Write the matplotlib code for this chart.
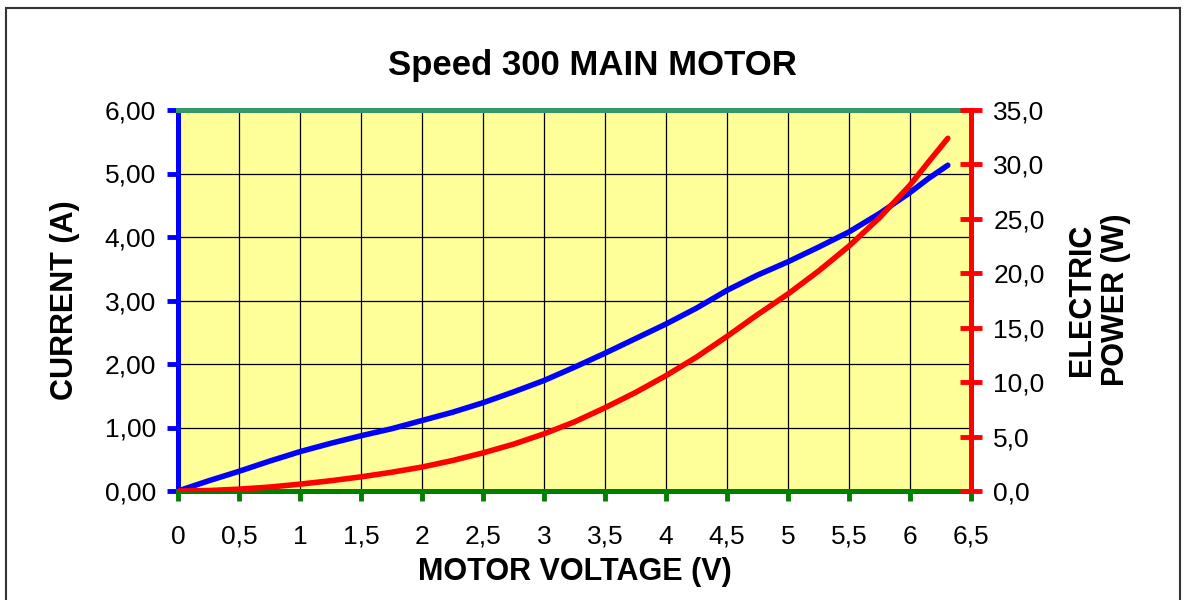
import matplotlib
matplotlib.use("Agg")
import matplotlib.pyplot as plt
from matplotlib.patches import Rectangle

plt.rcParams['font.family'] = ['Liberation Sans', 'DejaVu Sans']

voltage = [0.0, 0.25, 0.5, 0.75, 1.0, 1.25, 1.5, 1.75, 2.0, 2.25, 2.5, 2.75, 3.0,
           3.25, 3.5, 3.75, 4.0, 4.25, 4.5, 4.75, 5.0, 5.25, 5.5, 5.75, 6.0, 6.15, 6.31]
current = [0.00, 0.16, 0.31, 0.47, 0.62, 0.75, 0.87, 0.98, 1.11, 1.24, 1.39, 1.56, 1.74,
           1.95, 2.17, 2.40, 2.63, 2.88, 3.16, 3.40, 3.61, 3.84, 4.08, 4.37, 4.70, 4.92, 5.13]
power = [0.0, 0.04, 0.17, 0.36, 0.63, 0.94, 1.30, 1.72, 2.20, 2.80, 3.50, 4.30, 5.25,
         6.35, 7.65, 9.05, 10.6, 12.3, 14.2, 16.2, 18.1, 20.2, 22.5, 25.1, 28.1, 30.2, 32.4]

x_ticks = [0, 0.5, 1, 1.5, 2, 2.5, 3, 3.5, 4, 4.5, 5, 5.5, 6, 6.5]
x_labels = ["0", "0,5", "1", "1,5", "2", "2,5", "3", "3,5", "4", "4,5", "5", "5,5", "6", "6,5"]
i_ticks = [0, 1, 2, 3, 4, 5, 6]
i_labels = ["0,00", "1,00", "2,00", "3,00", "4,00", "5,00", "6,00"]
p_ticks = [0, 5, 10, 15, 20, 25, 30, 35]
p_labels = ["0,0", "5,0", "10,0", "15,0", "20,0", "25,0", "30,0", "35,0"]

fig = plt.figure(figsize=(11.84, 6.0), dpi=100)
ax = fig.add_axes([178 / 1184, 109 / 600, 793 / 1184, 381 / 600])
ax.set_facecolor("#FFFF99")
ax.set_xlim(0, 6.5)
ax.set_ylim(0, 6)

ax.set_xticks(x_ticks)
ax.set_xticklabels(x_labels)
ax.set_yticks(i_ticks)
ax.set_yticklabels(i_labels)
ax.grid(True, color="black", linewidth=0.9)
ax.set_axisbelow(True)

ax.tick_params(axis="x", direction="out", length=7.5, width=3.5, color="#008000",
               labelsize=19, pad=30.5)
ax.tick_params(axis="y", direction="out", length=8, width=3.5, color="#0000FF",
               labelsize=19, pad=8)
# keep all x labels on one baseline
for lbl in ax.get_xticklabels():
    lbl.set_verticalalignment("baseline")

ax.spines["left"].set_color("#0000FF")
ax.spines["left"].set_linewidth(3.6)
ax.spines["bottom"].set_color("#008000")
ax.spines["bottom"].set_linewidth(3.6)
ax.spines["top"].set_color("#339966")
ax.spines["top"].set_linewidth(3.6)
ax.spines["right"].set_visible(False)

ax.plot(voltage, current, color="#0000FF", linewidth=4, solid_capstyle="round",
        solid_joinstyle="round", zorder=3)

ax2 = ax.twinx()
ax2.set_ylim(0, 35)
ax2.set_yticks(p_ticks)
ax2.set_yticklabels(p_labels)
ax2.tick_params(axis="y", direction="inout", length=16, width=3.5, color="#FF0000",
                labelsize=19, pad=8)
for side in ["top", "bottom", "left"]:
    ax2.spines[side].set_visible(False)
ax2.spines["right"].set_color("#FF0000")
ax2.spines["right"].set_linewidth(3.6)
ax2.plot(voltage, power, color="#FF0000", linewidth=4, solid_capstyle="round",
         solid_joinstyle="round", zorder=3)

fig.text(0.5, 1 - 75 / 600, "Speed 300 MAIN MOTOR", ha="center", va="baseline",
         fontsize=25, fontweight="bold")
fig.text(574.5 / 1184, 1 - 580 / 600, "MOTOR VOLTAGE (V)", ha="center", va="baseline",
         fontsize=22, fontweight="bold")
fig.text(65 / 1184, 1 - 300 / 600, "CURRENT (A)", ha="center", va="center",
         rotation=90, fontsize=22, fontweight="bold")
fig.text(1099 / 1184, 1 - 300 / 600, "ELECTRIC\nPOWER (W)", ha="center", va="center",
         rotation=90, multialignment="center", fontsize=22, fontweight="bold",
         linespacing=1.15)

fig.patches.append(Rectangle((6 / 1184, -0.05), 1174 / 1184, 1.05 - 8 / 600,
                             transform=fig.transFigure, fill=False,
                             edgecolor="#333333", linewidth=1.5))

fig.savefig("out.png", dpi=100)
